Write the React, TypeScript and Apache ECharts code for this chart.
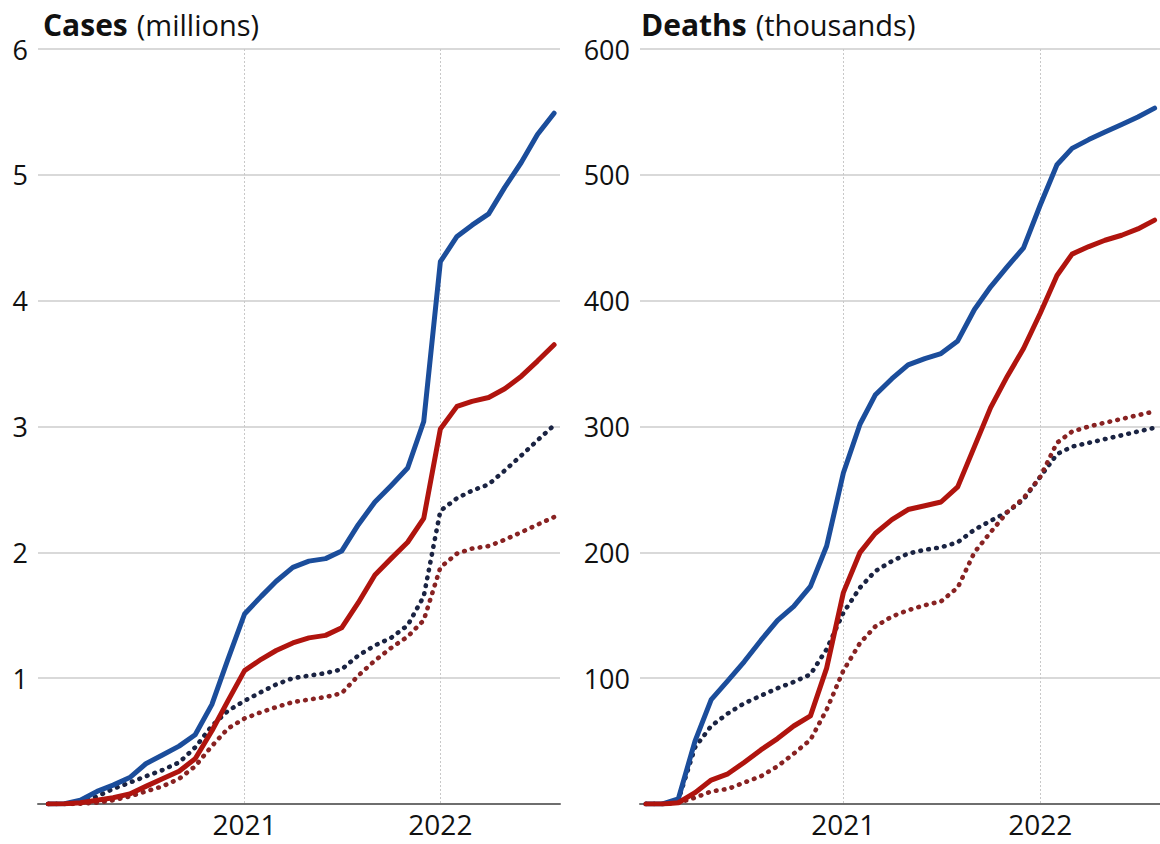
import React, { useEffect, useRef } from 'react';
import * as echarts from 'echarts';

const months = [
  '2020-01-01', '2020-02-01', '2020-03-01', '2020-04-01', '2020-05-01', '2020-06-01',
  '2020-07-01', '2020-08-01', '2020-09-01', '2020-10-01', '2020-11-01', '2020-12-01',
  '2021-01-01', '2021-02-01', '2021-03-01', '2021-04-01', '2021-05-01', '2021-06-01',
  '2021-07-01', '2021-08-01', '2021-09-01', '2021-10-01', '2021-11-01', '2021-12-01',
  '2022-01-01', '2022-02-01', '2022-03-01', '2022-04-01', '2022-05-01', '2022-06-01',
  '2022-07-01', '2022-08-01',
];

const yearTicks = ['2021-01-01', '2022-01-01'];

// Cases, millions
const casesBlue = [0, 0.002, 0.03, 0.1, 0.15, 0.21, 0.32, 0.39, 0.46, 0.55, 0.79, 1.15, 1.51, 1.65, 1.77, 1.88, 1.93, 1.95, 2.01, 2.22, 2.4, 2.53, 2.67, 3.04, 4.31, 4.51, 4.6, 4.69, 4.9, 5.1, 5.32, 5.49];
const casesRed = [0, 0.002, 0.01, 0.03, 0.05, 0.08, 0.14, 0.2, 0.26, 0.36, 0.58, 0.82, 1.06, 1.15, 1.22, 1.28, 1.32, 1.34, 1.4, 1.6, 1.82, 1.95, 2.08, 2.27, 2.98, 3.16, 3.2, 3.23, 3.3, 3.4, 3.52, 3.65];
const casesBlueDotted = [0, 0, 0.01, 0.06, 0.12, 0.17, 0.22, 0.27, 0.33, 0.45, 0.62, 0.74, 0.82, 0.89, 0.95, 1.0, 1.02, 1.04, 1.07, 1.18, 1.26, 1.32, 1.42, 1.65, 2.33, 2.43, 2.49, 2.54, 2.65, 2.77, 2.89, 3.01];
const casesRedDotted = [0, 0, 0.002, 0.01, 0.03, 0.06, 0.1, 0.14, 0.2, 0.3, 0.46, 0.6, 0.68, 0.73, 0.77, 0.81, 0.83, 0.85, 0.88, 1.02, 1.14, 1.24, 1.33, 1.46, 1.88, 1.99, 2.03, 2.05, 2.1, 2.16, 2.22, 2.28];

// Deaths, thousands
const deathsBlue = [0, 0, 4, 50, 83, 98, 113, 130, 146, 157, 173, 205, 263, 302, 325, 338, 349, 354, 358, 368, 393, 411, 427, 442, 476, 508, 521, 528, 534, 540, 546, 553];
const deathsRed = [0, 0, 1, 9, 19, 24, 33, 43, 52, 62, 70, 108, 168, 200, 215, 226, 234, 237, 240, 252, 284, 315, 340, 362, 390, 420, 437, 443, 448, 452, 457, 464];
const deathsBlueDotted = [0, 0, 3, 45, 62, 72, 80, 86, 92, 97, 103, 123, 152, 172, 185, 193, 199, 202, 204, 208, 218, 225, 232, 242, 260, 278, 284, 287, 290, 293, 296, 299];
const deathsRedDotted = [0, 0, 1, 5, 10, 12, 17, 22, 30, 40, 51, 75, 106, 128, 141, 149, 154, 158, 161, 172, 200, 216, 232, 243, 260, 287, 296, 300, 303, 306, 309, 312];

const BLUE = '#1b4d9b';
const RED = '#b0140e';
const NAVY = '#1a2342';
const MAROON = '#882222';
const FONT = 'Open Sans';

const ts = (d: string) => new Date(d + 'T00:00:00Z').getTime();
const pair = (vals: number[]) => months.map((m, i) => [ts(m), vals[i]]);

function solid(name: string, vals: number[], color: string, idx: number) {
  return {
    name, type: 'line', xAxisIndex: idx, yAxisIndex: idx, data: pair(vals),
    showSymbol: false, symbol: 'none',
    lineStyle: { color, width: 5, cap: 'round', join: 'round' },
  };
}
function dotted(name: string, vals: number[], color: string, idx: number) {
  return {
    name, type: 'line', xAxisIndex: idx, yAxisIndex: idx, data: pair(vals),
    showSymbol: false, symbol: 'none',
    lineStyle: { color, width: 4.6, type: [0.6, 7.4], cap: 'round', join: 'round' },
  };
}

function xAxis(idx: number, min: string, max: string) {
  const ticks = yearTicks.map(ts);
  return {
    type: 'value', gridIndex: idx, min: ts(min), max: ts(max),
    axisLine: { show: true, lineStyle: { color: '#6e6e6e', width: 2 } },
    axisTick: { show: false, customValues: ticks },
    axisLabel: {
      customValues: ticks, color: '#111', fontFamily: FONT, fontSize: 28, lineHeight: 28, margin: 6,
      formatter: (v: number) => String(new Date(v).getUTCFullYear()),
    },
    splitLine: { show: true, lineStyle: { color: '#c8c8c8', width: 1, type: [2, 2] } },
  };
}

function yAxis(idx: number, max: number, interval: number) {
  return {
    type: 'value', gridIndex: idx, min: 0, max, interval,
    axisLine: { show: false }, axisTick: { show: false },
    axisLabel: {
      color: '#111', fontFamily: FONT, fontSize: 27, margin: 10,
      formatter: (v: number) => (v === 0 ? '' : String(v)),
    },
    splitLine: { show: true, lineStyle: { color: '#cccccc', width: 1.5 } },
  };
}

const titleRich = {
  b: { fontFamily: FONT, fontWeight: 'bold', fontSize: 30, color: '#111' },
  n: { fontFamily: FONT, fontWeight: 'normal', fontSize: 29, color: '#111', padding: [0, 0, 0, 4] },
};

export default function App() {
  const ref = useRef<HTMLDivElement>(null);
  useEffect(() => {
    if (!ref.current) return;
    const chart = echarts.init(ref.current, null, { renderer: 'svg' });
    chart.setOption({
      animation: false,
      backgroundColor: '#ffffff',
      title: [
        { left: 38, top: 4, text: '{b|Cases} {n|(millions)}', textStyle: { rich: titleRich } },
        { left: 636, top: 4, text: '{b|Deaths} {n|(thousands)}', textStyle: { rich: titleRich } },
      ],
      grid: [
        { left: 38, right: 600, top: 49, bottom: 40 },
        { left: 640, right: 0, top: 49, bottom: 40 },
      ],
      xAxis: [xAxis(0, '2019-12-13', '2022-08-12'), xAxis(1, '2019-12-21', '2022-08-11')],
      yAxis: [yAxis(0, 6, 1), yAxis(1, 600, 100)],
      series: [
        dotted('Cases dotted blue', casesBlueDotted, NAVY, 0),
        dotted('Cases dotted red', casesRedDotted, MAROON, 0),
        solid('Cases blue', casesBlue, BLUE, 0),
        solid('Cases red', casesRed, RED, 0),
        dotted('Deaths dotted blue', deathsBlueDotted, NAVY, 1),
        dotted('Deaths dotted red', deathsRedDotted, MAROON, 1),
        solid('Deaths blue', deathsBlue, BLUE, 1),
        solid('Deaths red', deathsRed, RED, 1),
      ],
    });
    return () => chart.dispose();
  }, []);
  return <div ref={ref} style={{ position: 'absolute', left: 0, top: 0, width: 1160, height: 844 }} />;
}
